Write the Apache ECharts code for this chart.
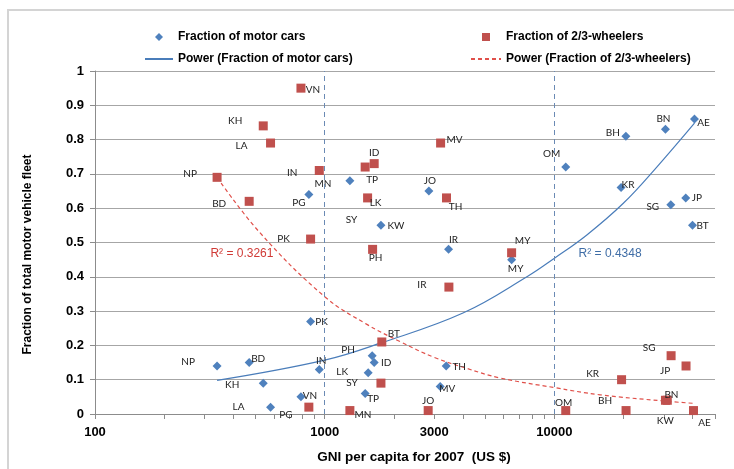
<!DOCTYPE html>
<html>
<head>
<meta charset="utf-8">
<title>Motor cars vs 2/3-wheelers</title>
<script src="https://cdn.jsdelivr.net/npm/echarts@6/dist/echarts.min.js"></script>
<style>
  html, body { margin: 0; padding: 0; background: #fff; }
  #main { width: 734px; height: 469px; }
</style>
</head>
<body>
<div id="main"></div>
<script>
// [GNI per capita 2007 (US $), fraction of fleet, country code]
var motorCars = [
  [340, 0.14, 'NP'], [469, 0.15, 'BD'], [540, 0.09, 'KH'], [581, 0.02, 'LA'],
  [788, 0.05, 'VN'], [853, 0.64, 'PG'], [868, 0.27, 'PK'], [947, 0.13, 'IN'],
  [1287, 0.68, 'MN'], [1500, 0.06, 'TP'], [1546, 0.12, 'LK'], [1609, 0.17, 'PH'],
  [1642, 0.15, 'ID'], [1757, 0.55, 'KW'], [2840, 0.65, 'JO'], [3182, 0.08, 'MV'],
  [3380, 0.14, 'TH'], [3460, 0.48, 'IR'], [6510, 0.45, 'MY'], [11200, 0.72, 'OM'],
  [19500, 0.66, 'KR'], [20460, 0.81, 'BH'], [30430, 0.83, 'BN'], [32100, 0.61, 'SG'],
  [37300, 0.63, 'JP'], [39900, 0.55, 'BT'], [40700, 0.86, 'AE']
];
var wheelers = [
  [340, 0.69, 'NP'], [469, 0.62, 'BD'], [540, 0.84, 'KH'], [581, 0.79, 'LA'],
  [788, 0.95, 'VN'], [853, 0.02, 'PG'], [868, 0.51, 'PK'], [947, 0.71, 'IN'],
  [1287, 0.01, 'MN'], [1500, 0.72, 'TP'], [1537, 0.63, 'LK'], [1616, 0.48, 'PH'],
  [1642, 0.73, 'ID'], [1757, 0.09, 'SY'], [1772, 0.21, 'BT'], [2821, 0.01, 'JO'],
  [3195, 0.79, 'MV'], [3390, 0.63, 'TH'], [3472, 0.37, 'IR'], [6510, 0.47, 'MY'],
  [11200, 0.01, 'OM'], [19600, 0.10, 'KR'], [20500, 0.01, 'BH'], [30430, 0.04, 'BN'],
  [31000, 0.04, 'KW'], [32200, 0.17, 'SG'], [37400, 0.14, 'JP'], [40300, 0.01, 'AE']
];
// power trendlines
var carTrend = [
  [340, 0.098], [1000, 0.157], [1772, 0.208], [4020, 0.295], [7590, 0.400],
  [10000, 0.454], [13840, 0.522], [20000, 0.615], [27900, 0.72], [40700, 0.848]
];
var wheelerTrend = [
  [340, 0.69], [520, 0.53], [1000, 0.342], [1520, 0.262], [2130, 0.211], [3000, 0.165],
  [4150, 0.133], [5800, 0.105], [10000, 0.077], [15800, 0.056], [29800, 0.038], [40500, 0.031]
];
// loose text in the plot: [gni, fraction, text]
var notes = [[1309, 0.566, 'SY']];
var rSquared = [[436, 0.4685, 'R² = 0.3261'], [17475, 0.4685, 'R² = 0.4348']];
var incomeBands = [1000, 10000];
var xLabels = [100, 1000, 3000, 10000];
var xTicks = [100, 200, 300, 400, 500, 600, 700, 800, 900,
  1000, 2000, 3000, 4000, 5000, 6000, 7000, 8000, 9000,
  10000, 20000, 30000, 40000, 50000];

// label offsets from the marker centre (px)
var carLabelAt = {
  NP: [-29, -4], BD: [9, -4], KH: [-31, 2], LA: [-32, 0], VN: [9, -1], PG: [-10, 8],
  PK: [11, 0], IN: [2, -9], MN: [-27, 3], TP: [8, 5], LK: [-26, -1], PH: [-24, -6],
  ID: [12, 0], KW: [15, 0], JO: [1, -10], MV: [7, 2], TH: [13, 1], IR: [5, -10],
  MY: [4, 9], OM: [-14, -13], BH: [-13, -3], BN: [-2, -11], AE: [9, 4], KR: [7, -3],
  SG: [-18, 2], JP: [11, 0], BT: [10, 0]
};
var wheelerLabelAt = {
  NP: [-27, -4], BD: [-30, 2], KH: [-28, -5], LA: [-29, 3], VN: [12, 2], IN: [-27, 2],
  PK: [-27, 0], PG: [-23, 8], MN: [13, 4], TP: [7, 13], LK: [8, 5], ID: [0, -11],
  PH: [3, 8], SY: [-29, 0], BT: [12, -8], JO: [0, -10], MV: [14, -3], TH: [9, 9],
  IR: [-27, -2], MY: [11, -12], OM: [-2, -8], KR: [-29, -6], BH: [-21, -10], BN: [6, -5],
  KW: [-2, 21], SG: [-22, -8], JP: [-21, 5], AE: [11, 12]
};

var BLUE = '#4F81BD';
var RED = '#C0504D';

function points(rows, offsets) {
  return rows.map(function (r) {
    return { name: r[2], value: [r[0], r[1]], label: { offset: offsets[r[2]] || [0, 0] } };
  });
}

var chart = echarts.init(document.getElementById('main'));

var pointLabel = {
  show: true,
  position: 'inside',
  formatter: '{b}',
  color: '#222',
  fontFamily: 'Lato',
  fontSize: 10
};
var boldText = { fontFamily: 'Liberation Sans', fontWeight: 'bold', color: '#000' };
var noDot = { opacity: 0, color: 'rgba(0,0,0,0)', borderWidth: 0 };
// legend markers kept small inside the wide icon box (the two bare moves fix the box)
var diamondIcon = 'path://M0,0M28,8M14,0L18,4L14,8L10,4Z';
var squareIcon = 'path://M0,0M30,8M11,0L19,0L19,8L11,8Z';

var option = {
  animation: false,
  backgroundColor: '#fff',
  graphic: [{
    type: 'rect',
    shape: { x: 8, y: 10, width: 760, height: 500 },
    style: { fill: 'none', stroke: '#D4D4D4', lineWidth: 2 },
    silent: true
  }],
  legend: [{
    left: 139, top: 26, orient: 'vertical',
    itemWidth: 28, itemHeight: 8, itemGap: 10,
    selectedMode: false,
    data: [
      { name: 'Fraction of motor cars', icon: diamondIcon },
      { name: 'Power (Fraction of motor cars)', itemStyle: noDot }
    ],
    textStyle: Object.assign({ fontSize: 12 }, boldText)
  }, {
    left: 465, top: 26, orient: 'vertical',
    itemWidth: 30, itemHeight: 8, itemGap: 10,
    selectedMode: false,
    data: [
      { name: 'Fraction of 2/3-wheelers', icon: squareIcon },
      { name: 'Power (Fraction of 2/3-wheelers)', itemStyle: noDot }
    ],
    textStyle: Object.assign({ fontSize: 12 }, boldText)
  }],
  grid: { left: 95, right: 19, top: 71, bottom: 55 },
  xAxis: {
    type: 'log',
    logBase: 10,
    min: 100,
    max: 50000,
    name: 'GNI per capita for 2007  (US $)',
    nameLocation: 'middle',
    nameGap: 36,
    nameTextStyle: Object.assign({ fontSize: 13.5, padding: [0, 0, 0, 18] }, boldText),
    axisLine: { lineStyle: { color: '#8C8C8C' } },
    axisTick: { show: true, length: 5, customValues: xTicks, lineStyle: { color: '#8C8C8C' } },
    axisLabel: Object.assign({
      fontSize: 13, margin: 12,
      customValues: xLabels,
      formatter: function (v) { return String(Math.round(v)); }
    }, boldText),
    splitLine: { show: false }
  },
  yAxis: {
    type: 'value',
    min: 0,
    max: 1,
    interval: 0.1,
    name: 'Fraction of total motor vehicle fleet',
    nameLocation: 'middle',
    nameGap: 61,
    nameTextStyle: Object.assign({ fontSize: 12, padding: [0, 24, 0, 0] }, boldText),
    axisLine: { show: true, lineStyle: { color: '#8C8C8C' } },
    axisTick: { show: true, length: 5, lineStyle: { color: '#8C8C8C' } },
    axisLabel: Object.assign({ fontSize: 13, margin: 11 }, boldText),
    splitLine: { lineStyle: { color: '#A6A6A6' } }
  },
  series: [{
    name: 'Power (Fraction of motor cars)',
    type: 'line',
    data: carTrend,
    smooth: 0.4,
    symbol: 'none',
    z: 1,
    lineStyle: { color: '#4A7DBA', width: 1.2 },
    itemStyle: { color: '#4A7DBA' },
    markLine: {
      silent: true,
      symbol: 'none',
      label: { show: false },
      lineStyle: { color: '#6A8AB4', type: [5, 4], width: 1 },
      data: incomeBands.map(function (v) { return { xAxis: v }; })
    }
  }, {
    name: 'Power (Fraction of 2/3-wheelers)',
    type: 'line',
    data: wheelerTrend,
    smooth: 0.4,
    symbol: 'none',
    z: 1,
    lineStyle: { color: '#E0504A', width: 1.2, type: [4, 3] },
    itemStyle: { color: '#E0504A' }
  }, {
    name: 'Fraction of motor cars',
    type: 'scatter',
    symbol: 'diamond',
    symbolSize: 9,
    z: 3,
    itemStyle: { color: BLUE, opacity: 1 },
    label: pointLabel,
    data: points(motorCars, carLabelAt)
  }, {
    name: 'Fraction of 2/3-wheelers',
    type: 'scatter',
    symbol: 'rect',
    symbolSize: 9,
    z: 4,
    itemStyle: { color: RED, opacity: 1 },
    label: pointLabel,
    data: points(wheelers, wheelerLabelAt)
  }, {
    name: 'notes',
    type: 'scatter',
    symbolSize: 0,
    z: 5,
    silent: true,
    itemStyle: { opacity: 1 },
    label: pointLabel,
    data: notes.map(function (n) { return { name: n[2], value: [n[0], n[1]] }; })
  }, {
    name: 'r2',
    type: 'scatter',
    symbolSize: 0,
    z: 5,
    silent: true,
    itemStyle: { opacity: 1 },
    label: {
      show: true, position: 'inside', formatter: '{b}',
      fontFamily: 'Liberation Sans', fontSize: 12
    },
    data: rSquared.map(function (n, i) {
      return { name: n[2], value: [n[0], n[1]], label: { color: i === 0 ? '#D03A36' : '#3F6DA6' } };
    })
  }]
};

chart.setOption(option);
</script>
</body>
</html>
